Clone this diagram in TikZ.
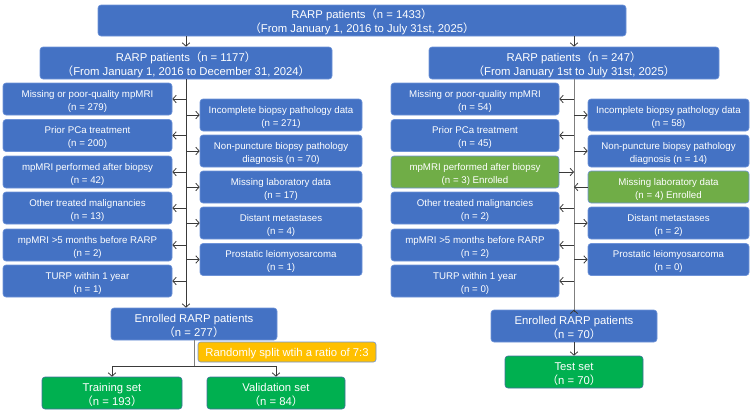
\documentclass[tikz,border=0pt]{standalone}
\usepackage{fontspec}
\setmainfont{Liberation Sans}
\newfontfamily\cjk{Noto Sans CJK SC}
\usetikzlibrary{arrows.meta}
\newcommand{\flp}{{\cjk （}}
\newcommand{\frp}{{\cjk ）}}
\definecolor{bfill}{HTML}{4472C4}
\definecolor{bdraw}{HTML}{6E93D8}
\definecolor{gfill}{HTML}{00B050}
\definecolor{gdraw}{HTML}{41719C}
\definecolor{lgfill}{HTML}{70AD47}
\definecolor{yfill}{HTML}{FFC000}
\definecolor{darkline}{HTML}{3A3A3A}
\definecolor{greyline}{HTML}{7F7F7F}
\tikzset{
  box/.style={rounded corners=3pt, draw=bdraw, line width=0.6pt, fill=bfill, text=white,
    align=center, inner sep=0pt, font=\fontsize{9.7}{13}\selectfont,
    text height=25.4pt, text depth=3pt},
  bigbox/.style={box, font=\fontsize{11.3}{13.8}\selectfont,
    text height=27.2pt, text depth=3pt},
  greenbox/.style={bigbox, fill=gfill, draw=gdraw},
  lgbox/.style={box, fill=lgfill, draw=bdraw},
  ybox/.style={bigbox, fill=yfill, draw=bdraw, rounded corners=2.5pt,
    text height=11.1pt, text depth=3pt},
  llw/.style={minimum width=169pt, minimum height=32pt},
  lrw/.style={minimum width=162pt, minimum height=32pt},
  rlw/.style={minimum width=168pt, minimum height=32pt},
  rrw/.style={minimum width=161pt, minimum height=32pt},
  conn/.style={draw=darkline, line width=0.8pt},
  gconn/.style={draw=greyline, line width=0.9pt},
  arr/.style={conn, -{Straight Barb[length=3.4pt,width=7.5pt,line width=0.8pt]}},
}
\begin{document}
\begin{tikzpicture}[x=1pt,y=-1pt]
\useasboundingbox (0,0) rectangle (753,413);

% top
\node[bigbox, minimum width=528pt, minimum height=31pt] (top) at (362,20.5)
  {RARP patients\flp n = 1433\frp\\\flp From January 1, 2016 to July 31st, 2025\frp};
\node[bigbox, minimum width=292pt, minimum height=32pt] (L) at (186,63)
  {RARP patients\flp n = 1177\frp\\\flp From January 1, 2016 to December 31, 2024\frp};
\node[bigbox, minimum width=290pt, minimum height=32pt] (R) at (574,63)
  {RARP patients\flp n = 247\frp\\\flp From January 1st to July 31st, 2025\frp};

% left-left exclusions
\node[box, llw] (ll1) at (87.5,99) {Missing or poor-quality mpMRI\\(n = 279)};
\node[box, llw] (ll2) at (87.5,135.5) {Prior PCa treatment\\(n = 200)};
\node[box, llw] (ll3) at (87.5,172) {mpMRI performed after biopsy\\(n = 42)};
\node[box, llw] (ll4) at (87.5,208) {Other treated malignancies\\(n = 13)};
\node[box, llw] (ll5) at (87.5,245) {mpMRI >5 months before RARP\\(n = 2)};
\node[box, llw] (ll6) at (87.5,281) {TURP within 1 year\\(n = 1)};
% left-right exclusions
\node[box, lrw] (lr1) at (281,115) {Incomplete biopsy pathology data\\(n = 271)};
\node[box, lrw] (lr2) at (281,151) {Non-puncture biopsy pathology\\diagnosis (n = 70)};
\node[box, lrw] (lr3) at (281,187) {Missing laboratory data\\(n = 17)};
\node[box, lrw] (lr4) at (281,223) {Distant metastases\\(n = 4)};
\node[box, lrw] (lr5) at (281,259.5) {Prostatic leiomyosarcoma\\(n = 1)};

% right-left exclusions
\node[box, rlw] (rl1) at (475,99) {Missing or poor-quality mpMRI\\(n = 54)};
\node[box, rlw] (rl2) at (475,135.5) {Prior PCa treatment\\(n = 45)};
\node[lgbox, rlw] (rl3) at (475,172) {mpMRI performed after biopsy\\(n = 3) Enrolled};
\node[box, rlw] (rl4) at (475,208) {Other treated malignancies\\(n = 2)};
\node[box, rlw] (rl5) at (475,245) {mpMRI >5 months before RARP\\(n = 2)};
\node[box, rlw] (rl6) at (475,281) {TURP within 1 year\\(n = 0)};
% right-right exclusions
\node[box, rrw] (rr1) at (668.5,115) {Incomplete biopsy pathology data\\(n = 58)};
\node[box, rrw] (rr2) at (668.5,151) {Non-puncture biopsy pathology\\diagnosis (n = 14)};
\node[lgbox, rrw] (rr3) at (668.5,187) {Missing laboratory data\\(n = 4) Enrolled};
\node[box, rrw] (rr4) at (668.5,223) {Distant metastases\\(n = 2)};
\node[box, rrw] (rr5) at (668.5,259.5) {Prostatic leiomyosarcoma\\(n = 0)};

% enrolled
\node[bigbox, minimum width=166pt, minimum height=32pt] (EL) at (194,324)
  {Enrolled RARP patients\\\flp n = 277\frp};
\node[bigbox, minimum width=166pt, minimum height=32pt] (ER) at (574,326)
  {Enrolled RARP patients\\\flp n = 70\frp};
\node[ybox, minimum width=178pt, minimum height=20pt] (split) at (287,352)
  {Randomly split wtih a ratio of 7:3};
\node[greenbox, minimum width=140pt, minimum height=32pt] (train) at (112,393)
  {Training set\\\flp n = 193\frp};
\node[greenbox, minimum width=138pt, minimum height=32pt] (valid) at (276,393)
  {Validation set\\\flp n = 84\frp};
\node[greenbox, minimum width=138pt, minimum height=32pt] (test) at (574,372)
  {Test set\\\flp n = 70\frp};

% connectors top
\draw[arr] (top.south -| L.north) -- (L.north);
\draw[arr] (top.south -| R.north) -- (R.north);

% left trunk
\draw[arr] (L.south) -- (EL.north -| L.south);
\foreach \n in {ll1,ll2,ll3,ll4,ll5,ll6} \draw[arr] (\n.east -| L.south) -- (\n.east);
\foreach \n in {lr1,lr2,lr3,lr4,lr5} \draw[arr] (\n.west -| L.south) -- (\n.west);

% right trunk
\draw[gconn] (R.south) -- (ER.north);
\draw[arr] ([yshift=-1pt]ER.north) -- (ER.north);
\foreach \n in {rl1,rl2,rl4,rl5,rl6} \draw[arr] (\n.east -| R.south) -- (\n.east);
\foreach \n in {rr1,rr2,rr4,rr5} \draw[arr] (\n.west -| R.south) -- (\n.west);
\draw[arr] (rl3.east) -- (rl3.east -| R.south);
\draw[arr] (rr3.west) -- (rr3.west -| R.south);

% split
\coordinate (sp) at (194,366);
\draw[gconn] (EL.south) -- (sp);
\draw[arr] (sp) -| (train.north);
\draw[arr] (sp) -| (valid.north);
\draw[arr] (ER.south) -- (test.north);
\end{tikzpicture}
\end{document}
